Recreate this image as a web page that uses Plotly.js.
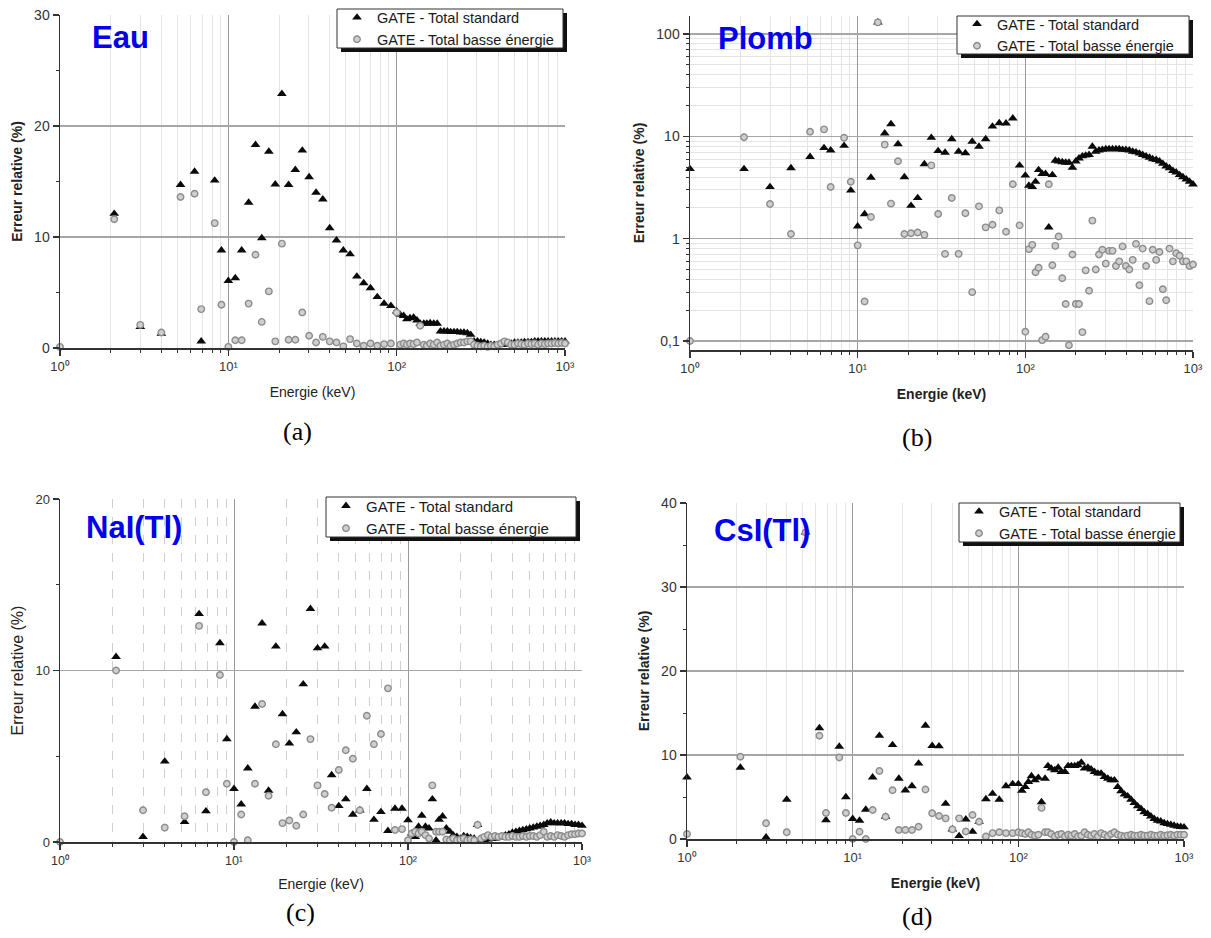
<!DOCTYPE html>
<html><head><meta charset="utf-8">
<script src="https://cdn.plot.ly/plotly-3.0.1.min.js"></script>
<style>html,body{margin:0;padding:0;background:#fff}#chart{width:1211px;height:938px}</style>
</head><body><div id="chart"></div>
<script>
// ---------------- DATA ----------------
const energyKeV = [1, 2.1, 3, 4, 5.2, 6.3, 6.9, 8.3, 9.1, 10, 11, 12, 13.2, 14.5, 15.8, 17.4, 19, 20.8, 22.8, 25,
  27.5, 30.2, 33.2, 36.4, 40, 43.9, 48.2, 52.9, 58, 63.7, 69.9, 76.7, 84.2, 92.4,
  100, 105, 110, 115, 120, 126, 132, 138, 145, 151, 158, 166, 174, 182, 191, 200, 209, 219, 229, 240,
  251, 263, 275, 288, 302, 316, 331, 347, 363, 380, 398, 417, 437, 457, 479, 501, 525, 550, 575, 603,
  631, 661, 692, 724, 759, 794, 832, 871, 912, 955, 1000];

const eauStandard = [null, 12.1, 1.9, 1.3, 14.7, 15.9, 0.6, 15.1, 8.8, 6.05, 6.3, 8.8, 13.1, 18.3, 9.9, 17.7, 14.75, 22.9, 14.7, 16.05,
  17.8, 15.4, 14.0, 13.4, 10.8, 9.7, 8.8, 8.45, 6.45, 5.85, 5.4, 4.6, 4.0, 3.8,
  3.3, 3.0, 2.9, 2.6, 2.7, 2.75, 2.5, 2.2, 2.2, 2.2, 2.25, 2.2, 2.2, 1.5, 1.5, 1.5, 1.45, 1.45, 1.45, 1.4,
  1.4, 1.35, 1.2, 0.6, 0.6, 0.55, 0.5, 0.4, 0.3, 0.3, 0.25, 0.3, 0.3, 0.35, 0.4, 0.5, 0.5, 0.5, 0.55, 0.55,
  0.55, 0.6, 0.6, 0.6, 0.6, 0.6, 0.6, 0.6, 0.6, 0.6, 0.6];
const eauBasse = [0.1, 11.6, 2.08, 1.4, 13.6, 13.9, 3.5, 11.25, 3.9, 0.1, 0.7, 0.7, 4.0, 8.4, 2.35, 5.1, 0.6, 9.4, 0.75, 0.75,
  3.2, 1.1, 0.5, 1.0, 0.6, 0.5, 0.15, 0.8, 0.4, 0.2, 0.4, 0.2, 0.35, 0.4,
  3.2, 0.3, 0.4, 0.3, 0.4, 0.35, 0.5, 2.0, 0.3, 0.2, 0.4, 0.3, 0.5, 0.2, 0.3, 0.4, 0.2, 0.3, 0.4, 0.5,
  0.5, 0.6, 0.6, 0.3, 0.2, 0.15, 0.2, 0.1, 0.2, 0.15, 0.3, 0.4, 0.6, 0.5, 0.3, 0.3, 0.4, 0.35, 0.3, 0.4,
  0.35, 0.4, 0.3, 0.4, 0.35, 0.4, 0.4, 0.45, 0.4, 0.45, 0.4];

const plombStandard = [4.8, 4.8, 3.2, 4.9, 6.3, 7.7, 7.3, 8.1, 2.96, 1.32, 1.74, 3.96, 130, 10.7, 13.2, 8.4, 4.0, 2.1, 2.5, 5.36,
  9.7, 7.2, 6.95, 9.4, 7.1, 6.86, 8.9, 7.95, 9.4, 12.5, 13.5, 13.4, 15, 5.2,
  4.15, 3.3, 3.2, 3.6, 4.7, 4.3, 4.3, 1.29, 4.2, 5.8, 5.7, 5.6, 5.55, 5.55, 4.96, 5.7, 6.1, 6.4, 6.5, 6.6,
  7.95, 7.1, 7.3, 7.4, 7.5, 7.5, 7.5, 7.5, 7.5, 7.4, 7.4, 7.3, 7.1, 7.0, 6.8, 6.6, 6.4, 6.2, 6.0, 5.9,
  5.7, 5.4, 5.1, 4.9, 4.6, 4.45, 4.2, 4.0, 3.8, 3.6, 3.4];
const plombBasse = [0.1, 9.8, 2.18, 1.11, 11.1, 11.7, 3.2, 9.7, 3.6, 0.86, 0.243, 1.63, 130, 8.3, 2.2, 5.7, 1.11, 1.13, 1.15, 1.09,
  5.2, 1.74, 0.71, 2.5, 0.71, 1.77, 0.30, 2.07, 1.29, 1.37, 1.89, 1.17, 3.4, 1.35,
  0.123, 0.79, 0.87, 0.47, 0.52, 0.102, 0.11, 3.4, 0.55, 0.85, 1.05, 0.41, 0.23, 0.091, 0.7, 0.23, 0.23, 0.122, 0.49, 0.31,
  1.5, 0.5, 0.7, 0.78, 0.57, 0.76, 0.76, 0.54, 0.6, 0.84, 0.54, 0.5, 0.62, 0.89, 0.35, 0.8, 0.54, 0.245, 0.78, 0.62,
  0.74, 0.32, 0.25, 0.8, 0.6, 0.72, 0.68, 0.6, 0.6, 0.54, 0.56];

const naiStandard = [null, 10.8, 0.3, 4.7, 1.17, 13.3, 1.8, 11.6, 6.0, 3.1, 2.2, 4.3, 7.9, 12.75, 3.0, 11.4, 7.46, 5.75, 6.4, 9.2,
  13.6, 11.3, 11.4, 3.9, 2.1, 2.5, 1.6, 1.85, 3.1, 1.3, 1.75, 0.65, 1.95, 1.95,
  1.27, 0.5, 0.3, 0.9, 1.54, 0.9, 0.8, 2.5, 0.1, 1.3, 1.5, 0.8, 0.6, 0.4, 0.3, 0.2, 0.35, 0.3, 0.25, 0.2,
  1.0, 0.1, 0.1, 0.15, 0.2, 0.2, 0.25, 0.3, 0.4, 0.45, 0.55, 0.6, 0.65, 0.7, 0.75, 0.8, 0.85, 0.9, 0.95, 1.0,
  1.1, 1.15, 1.1, 1.1, 1.1, 1.1, 1.05, 1.05, 1.0, 1.0, 0.95];
const naiBasse = [0, 10.0, 1.85, 0.84, 1.5, 12.6, 2.9, 9.74, 3.4, 0, 1.6, 0.1, 3.4, 8.05, 2.7, 5.7, 1.1, 1.25, 0.95, 1.6,
  6.0, 3.3, 2.8, 2.0, 4.2, 5.35, 4.85, 1.85, 7.36, 5.7, 6.3, 8.96, 0.7, 0.75,
  0.1, 0.5, 0.6, 0.5, 0.6, 0.4, 0.2, 3.3, 0.6, 0.6, 0.6, 0.15, 0.1, 0.2, 0.1, 0.15, 0.2, 0.1, 0.15, 0.1,
  1.0, 0.2, 0.3, 0.4, 0.3, 0.35, 0.3, 0.35, 0.3, 0.3, 0.35, 0.3, 0.3, 0.35, 0.3, 0.35, 0.35, 0.3, 0.4, 0.6,
  0.3, 0.35, 0.3, 0.4, 0.35, 0.3, 0.4, 0.45, 0.45, 0.5, 0.5];

const csiStandard = [7.35, 8.5, 0.2, 4.7, 36.5, 13.2, 2.26, 11.0, 5.0, 2.4, 2.2, 3.5, 7.35, 12.3, 2.65, 11.2, 7.2, 5.8, 6.3, 9.0,
  13.5, 11.1, 11.05, 4.2, 1.15, 0.36, 2.35, 0.87, 2.06, 4.76, 5.4, 4.7, 6.3, 6.55,
  6.55, 5.75, 6.2, 6.8, 7.5, 7.0, 7.3, 4.4, 7.2, 8.7, 8.4, 8.2, 8.5, 8.0, 8.0, 8.7, 8.7, 8.7, 8.8, 9.1,
  8.4, 8.5, 8.3, 8.0, 7.8, 7.8, 7.4, 7.2, 7.0, 7.0, 6.2, 5.7, 5.3, 5.1, 4.7, 4.3, 3.9, 3.6, 3.2, 3.0,
  2.7, 2.4, 2.2, 2.1, 1.9, 1.8, 1.7, 1.6, 1.5, 1.45, 1.4];
const csiBasse = [0.6, 9.8, 1.87, 0.8, 36.5, 12.3, 3.1, 9.7, 3.1, 0, 0.87, 0, 3.45, 8.1, 2.65, 5.8, 1.07, 1.07, 1.07, 1.46,
  5.9, 3.06, 2.74, 2.46, 1.15, 2.46, 0.9, 2.86, 2.06, 0.3, 0.7, 0.8, 0.7, 0.7,
  0.8, 0.7, 0.6, 0.8, 0.5, 0.4, 0.5, 3.7, 0.8, 0.8, 0.6, 0.3, 0.5, 0.6, 0.3, 0.5, 0.4, 0.6, 0.3, 0.4,
  0.8, 0.5, 0.4, 0.6, 0.3, 0.7, 0.5, 0.3, 0.6, 0.8, 0.5, 0.4, 0.3, 0.4, 0.5, 0.4, 0.4, 0.5, 0.4, 0.4,
  0.5, 0.4, 0.4, 0.5, 0.4, 0.45, 0.5, 0.4, 0.5, 0.5, 0.5];

const seriesNames = ['GATE - Total standard', 'GATE - Total basse énergie'];
const panelLabels = ['Eau', 'Plomb', 'NaI(Tl)', 'CsI(Tl)'];
const captions = ['(a)', '(b)', '(c)', '(d)'];
const xTickVals = [1, 10, 100, 1000];
const xTickText = ['10\u2070', '10\u00B9', '10\u00B2', '10\u00B3'];
const logYTickVals = [0.1, 1, 10, 100];
const logYTickText = ['0,1', '1', '10', '100'];
const xTitle = 'Energie (keV)';
const yTitle = 'Erreur relative (%)';

// ---------------- LAYOUT HELPERS ----------------
const W = 1211, H = 938;
const fx = p => p / W;
const fy = p => 1 - p / H;
const FONT = 'Liberation Sans, Arial, sans-serif';

const minorDecades = [];
for (const d of [1, 10, 100]) for (let k = 2; k <= 9; k++) minorDecades.push(k * d);
const minorLogY = [];
for (const d of [0.1, 1, 10]) for (let k = 2; k <= 9; k++) minorLogY.push(+(k * d).toFixed(3));

const panels = [
  {std: eauStandard, low: eauBasse, xpx: [60, 565], ypx: [15, 348], ylog: false, yrange: [0, 30], ydtick: 10, yminor: 5,
   yBold: true, xBold: false, xTick: 13, yTick: 14, ytitleSize: 14, xtitleSize: 14, xStandoff: 14, minorDash: 'solid',
   box: [337, 9, 563, 48], legendFont: 14.5,
   label: [120, 37], caption: [297, 431]},
  {std: plombStandard, low: plombBasse, xpx: [690, 1193], ypx: [16, 350], ylog: true, yrange: [-1.088, 2.176],
   yBold: true, xBold: true, xTick: 13, yTick: 14, ytitleSize: 14, xtitleSize: 14, xStandoff: 14, minorDash: 'solid',
   box: [957, 16, 1189, 54], legendFont: 14.5,
   label: [765, 38], caption: [917, 437]},
  {std: naiStandard, low: naiBasse, xpx: [60, 582], ypx: [499, 842], ylog: false, yrange: [0, 20], ydtick: 10, yminor: 5,
   yBold: false, xBold: false, xTick: 12.5, yTick: 13, ytitleSize: 16, xtitleSize: 14, xStandoff: 12, minorDash: 'dash',
   box: [326, 497, 576, 537], legendFont: 15,
   label: [134, 527], caption: [300, 912]},
  {std: csiStandard, low: csiBasse, xpx: [687, 1184], ypx: [503, 839], ylog: false, yrange: [0, 40], ydtick: 10, yminor: 5,
   yBold: true, xBold: true, xTick: 13, yTick: 14, ytitleSize: 14, xtitleSize: 14, xStandoff: 14, minorDash: 'solid',
   box: [959, 503, 1180, 542], legendFont: 14.5,
   label: [762, 530], caption: [917, 916]}
];

const data = [];
const layout = {
  width: W, height: H,
  margin: {l: 0, r: 0, t: 0, b: 0},
  paper_bgcolor: '#ffffff', plot_bgcolor: '#ffffff',
  font: {family: FONT, color: '#222'},
  showlegend: true,
  annotations: [], shapes: []
};

panels.forEach((p, i) => {
  const n = i === 0 ? '' : String(i + 1);
  const xa = 'x' + n, ya = 'y' + n;
  const legendName = 'legend' + n;

  data.push({
    type: 'scatter', mode: 'markers', x: energyKeV, y: p.std, name: seriesNames[0],
    xaxis: xa, yaxis: ya, legend: legendName, cliponaxis: false,
    marker: {symbol: 'triangle-up', size: 8.5, color: '#0a0a0a', line: {width: 0}}
  });
  data.push({
    type: 'scatter', mode: 'markers', x: energyKeV, y: p.low, name: seriesNames[1],
    xaxis: xa, yaxis: ya, legend: legendName, cliponaxis: false,
    marker: {symbol: 'circle', size: 6.5, color: '#cfcfcf', line: {width: 1.4, color: '#8c8c8c'}}
  });

  layout['xaxis' + n] = {
    domain: [fx(p.xpx[0]), fx(p.xpx[1])], anchor: ya, type: 'log', range: [0, 3],
    tickmode: 'array', tickvals: xTickVals, ticktext: xTickText,
    ticks: 'outside', ticklen: 6, tickwidth: 1.3, tickcolor: '#333',
    showline: true, linecolor: '#333', linewidth: 1.5,
    showgrid: true, gridcolor: '#9a9a9a', gridwidth: 1, zeroline: false,
    minor: {tickmode: 'array', tickvals: minorDecades, ticks: 'outside', ticklen: 3.5, tickwidth: 1, tickcolor: '#333',
            showgrid: true, gridcolor: p.minorDash === 'dash' ? '#d0d0d0' : '#e4e4e4', gridwidth: 1, griddash: p.minorDash},
    tickfont: {size: p.xTick, color: '#333', family: FONT},
    title: {text: xTitle, standoff: p.xStandoff, font: {size: p.xtitleSize, color: '#222', family: FONT, weight: p.xBold ? 'bold' : 'normal'}},
    automargin: false, fixedrange: true
  };

  const yax = {
    domain: [fy(p.ypx[1]), fy(p.ypx[0])], anchor: xa,
    ticks: 'outside', ticklen: 6, tickwidth: 1.3, tickcolor: '#333',
    showline: true, linecolor: '#333', linewidth: 1.5,
    showgrid: true, gridcolor: '#a6a6a6', gridwidth: 1.2, zeroline: false,
    tickfont: {size: p.yTick, color: '#333', family: FONT},
    title: {text: yTitle, standoff: 8, font: {size: p.ytitleSize, color: '#222', family: FONT, weight: p.yBold ? 'bold' : 'normal'}},
    automargin: false, fixedrange: true
  };
  if (p.ylog) {
    Object.assign(yax, {type: 'log', range: p.yrange, tickmode: 'array', tickvals: logYTickVals, ticktext: logYTickText,
      minor: {tickmode: 'array', tickvals: minorLogY, ticks: 'outside', ticklen: 3, tickwidth: 1, tickcolor: '#333',
              showgrid: true, gridcolor: '#e4e4e4', gridwidth: 1}});
  } else {
    Object.assign(yax, {type: 'linear', range: p.yrange, dtick: p.ydtick, tick0: 0,
      minor: {dtick: p.yminor, ticks: 'outside', ticklen: 3, tickwidth: 1, tickcolor: '#333', showgrid: false}});
  }
  layout['yaxis' + n] = yax;

  const [L, T, R, B] = p.box;
  // legend drawn transparent over a hand-drawn box with a drop shadow
  layout[legendName] = {
    x: fx(L), y: fy((T + B) / 2), xanchor: 'left', yanchor: 'middle',
    bgcolor: 'rgba(0,0,0,0)', borderwidth: 0,
    font: {size: p.legendFont, color: '#1a1a1a', family: FONT},
    tracegroupgap: 0, itemsizing: 'trace'
  };
  layout.shapes.push({
    type: 'rect', xref: 'paper', yref: 'paper', layer: 'above',
    x0: fx(L + 4), x1: fx(R + 4), y0: fy(T + 4), y1: fy(B + 4),
    fillcolor: '#111111', line: {width: 0}
  });
  layout.shapes.push({
    type: 'rect', xref: 'paper', yref: 'paper', layer: 'above',
    x0: fx(L), x1: fx(R), y0: fy(T), y1: fy(B),
    fillcolor: '#ffffff', line: {width: 1, color: '#333333'}
  });

  layout.annotations.push({
    xref: 'paper', yref: 'paper', x: fx(p.label[0]), y: fy(p.label[1]), xanchor: 'center', yanchor: 'middle',
    text: panelLabels[i], showarrow: false,
    font: {family: FONT, size: 31, color: '#0000ee', weight: 'bold'}
  });
  layout.annotations.push({
    xref: 'paper', yref: 'paper', x: fx(p.caption[0]), y: fy(p.caption[1]), xanchor: 'center', yanchor: 'middle',
    text: captions[i], showarrow: false,
    font: {family: 'Liberation Serif, Times New Roman, serif', size: 26, color: '#000'}
  });
});

Plotly.newPlot('chart', data, layout, {displayModeBar: false, staticPlot: true});
</script>
</body></html>
